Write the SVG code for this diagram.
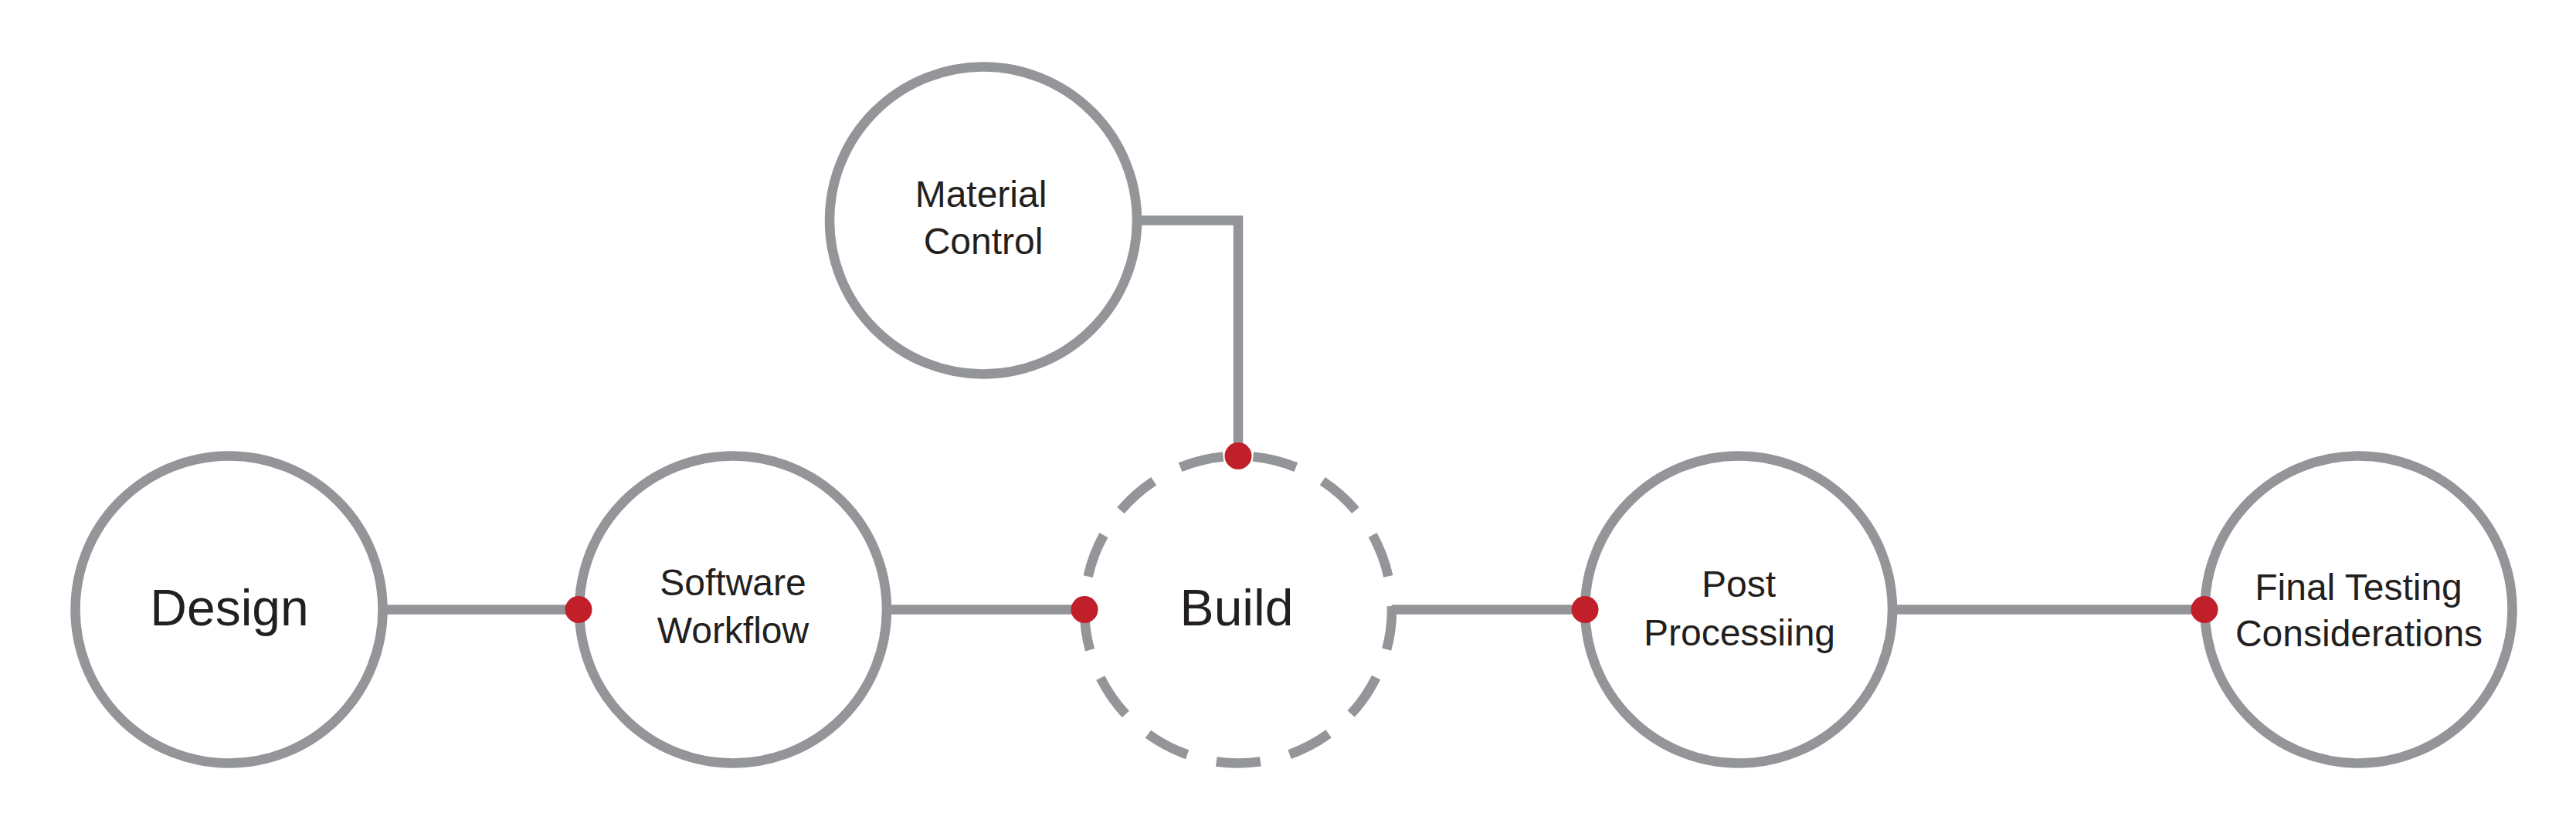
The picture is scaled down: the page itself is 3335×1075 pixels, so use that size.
<svg xmlns="http://www.w3.org/2000/svg" width="3335" height="1075" viewBox="0 0 3335 1075">
<style>
.node{fill:#fff;stroke:#939598;stroke-width:12.5}
.dash{stroke-dasharray:57.3 38.88;stroke-dashoffset:5.04}
.conn{fill:none;stroke:#939598;stroke-width:12.5}
.dot{fill:#C1202A}
text{font-family:"Liberation Sans",Arial,sans-serif;fill:#231F20;text-anchor:middle}
.big{font-size:66px}
.sm{font-size:48px}
</style>
<rect width="3335" height="1075" fill="#fff"/>
<g id="connectors">
<path class="conn" d="M495.5 789.5H749"/>
<path class="conn" d="M1148 789.5H1404"/>
<path class="conn" d="M1797 789.5H2052"/>
<path class="conn" d="M2450 789.5H2854"/>
<path class="conn" d="M1472 285.5H1603V590"/>
</g>
<g id="design">
<circle class="node" cx="296.5" cy="789.5" r="199"/>
<text class="big" x="297" y="810">Design</text>
</g>
<g id="software-workflow">
<circle class="node" cx="949" cy="789.5" r="199"/>
<text class="sm" x="949" y="771">Software</text>
<text class="sm" x="949" y="833">Workflow</text>
</g>
<g id="build">
<circle class="node dash" cx="1603" cy="789.5" r="199"/>
<text class="big" x="1601" y="810">Build</text>
</g>
<g id="material-control">
<circle class="node" cx="1273" cy="285.5" r="199"/>
<text class="sm" x="1270" y="268">Material</text>
<text class="sm" x="1273" y="329">Control</text>
</g>
<g id="post-processing">
<circle class="node" cx="2251" cy="789.5" r="199"/>
<text class="sm" x="2251" y="773">Post</text>
<text class="sm" x="2252" y="836">Processiing</text>
</g>
<g id="final-testing">
<circle class="node" cx="3053.5" cy="789.5" r="199"/>
<text class="sm" x="3053.5" y="777">Final Testing</text>
<text class="sm" x="3054" y="837">Considerations</text>
</g>
<g id="dots">
<circle class="dot" cx="749" cy="789.5" r="17.5"/>
<circle class="dot" cx="1404" cy="789.5" r="17.5"/>
<circle class="dot" cx="1603" cy="590.5" r="17.5"/>
<circle class="dot" cx="2052" cy="789.5" r="17.5"/>
<circle class="dot" cx="2854" cy="789.5" r="17.5"/>
</g>
</svg>
